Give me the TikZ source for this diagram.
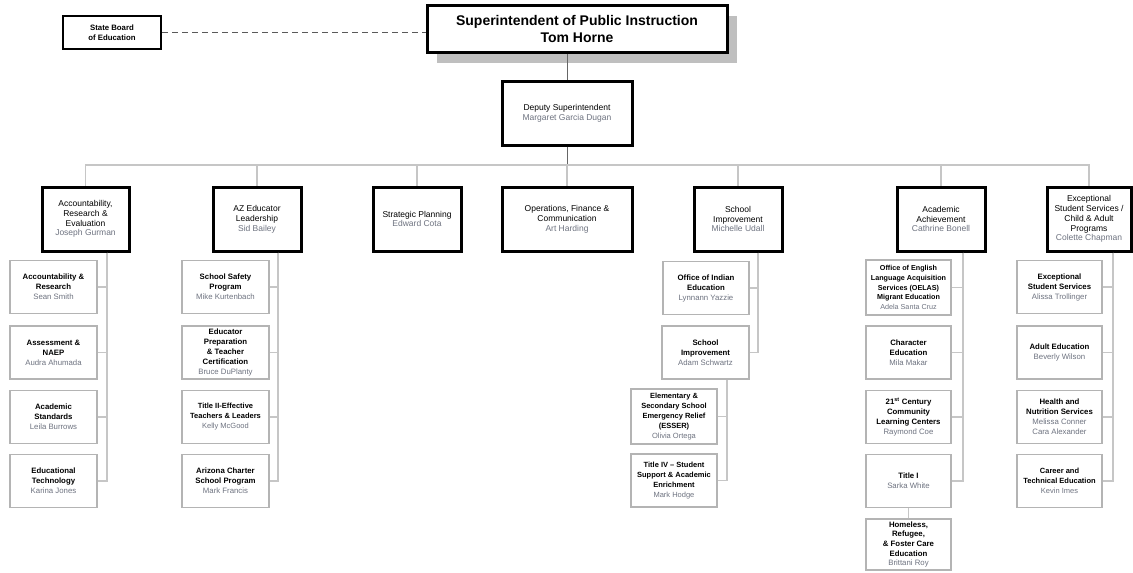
\documentclass[tikz,border=0pt]{standalone}
\usepackage{fontspec}
\setmainfont{Liberation Sans}
\usetikzlibrary{shadows}
\definecolor{subgray}{HTML}{B4B4B4}
\definecolor{conngray}{HTML}{C6C6C6}
\definecolor{namegray}{HTML}{6E7380}
\newcommand\pname[1]{{\mdseries\color{namegray}#1}}
\begin{document}
\begin{tikzpicture}[x=1pt,y=-1pt,
  topbox/.style={draw, line width=3pt, fill=white, minimum width=300pt, minimum height=47pt, inner sep=0pt, align=center, font=\fontsize{14}{17}\selectfont\bfseries},
  sbbox/.style={draw, line width=2.5pt, fill=white, minimum width=98pt, minimum height=33pt, inner sep=0pt, align=center, font=\fontsize{7.8}{9.5}\selectfont\bfseries},
  depbox/.style={draw, line width=3pt, fill=white, minimum width=130pt, minimum height=64pt, inner sep=0pt, align=center, font=\fontsize{8.5}{10}\selectfont},
  lvltwo/.style={draw, line width=3pt, fill=white, minimum height=64pt, inner sep=1pt, align=center, font=\fontsize{8.5}{9.8}\selectfont},
  lvlthree/.style={draw=subgray, line width=1.1pt, fill=white, minimum width=87pt, minimum height=53pt, inner sep=1pt, align=center, font=\fontsize{7.8}{10}\selectfont\bfseries},
  conn/.style={draw=conngray, line width=1.2pt},
  mainline/.style={draw=black!60, line width=1pt},
  dashline/.style={draw=black!65, line width=1pt, dash pattern=on 6pt off 4pt}
]
\useasboundingbox (0,0) rectangle (1133,573);
\fill[white] (0,0) rectangle (1133,573);

% top level
\node[topbox, drop shadow={shadow xshift=10pt, shadow yshift=-11pt, fill=black!25, opacity=1}] (sup) at (577,28.5) {Superintendent of Public Instruction\\Tom Horne};
\node[sbbox] (sb) at (112,32.5) {State Board\\of Education};
\node[depbox] (dep) at (567,113) {Deputy Superintendent\\\pname{Margaret Garcia Dugan}};

% level 2
\node[lvltwo, minimum width=87pt] (acc) at (85.5,219) {Accountability,\\Research \&\\Evaluation\\\pname{Joseph Gurman}};
\node[lvltwo, minimum width=88pt] (az) at (257,219) {AZ Educator\\Leadership\\\pname{Sid Bailey}};
\node[lvltwo, minimum width=88pt] (stp) at (417,219) {Strategic Planning\\\pname{Edward Cota}};
\node[lvltwo, minimum width=130pt] (ops) at (567,219) {Operations, Finance \&\\Communication\\\pname{Art Harding}};
\node[lvltwo, minimum width=88pt] (sci) at (738,219) {School\\Improvement\\\pname{Michelle Udall}};
\node[lvltwo, minimum width=88pt] (aca) at (941,219) {Academic\\Achievement\\\pname{Cathrine Bonell}};
\node[lvltwo, minimum width=84pt] (exc) at (1089,219) {Exceptional\\Student Services /\\Child \& Adult\\Programs\\\pname{Colette Chapman}};

% column 1
\node[lvlthree] (a1) at (53.5,287) {Accountability \&\\Research\\\pname{Sean Smith}};
\node[lvlthree] (a2) at (53.5,352.5) {Assessment \&\\NAEP\\\pname{Audra Ahumada}};
\node[lvlthree] (a3) at (53.5,417) {Academic\\Standards\\\pname{Leila Burrows}};
\node[lvlthree] (a4) at (53.5,481) {Educational\\Technology\\\pname{Karina Jones}};

% column 2
\node[lvlthree] (b1) at (225.5,287) {School Safety\\Program\\\pname{Mike Kurtenbach}};
\node[lvlthree] (b2) at (225.5,352.5) {Educator\\Preparation\\\& Teacher\\Certification\\\pname{Bruce DuPlanty}};
\node[lvlthree, font=\fontsize{7.5}{10}\selectfont\bfseries] (b3) at (225.5,417) {Title II-Effective\\Teachers \& Leaders\\\pname{Kelly McGood}};
\node[lvlthree] (b4) at (225.5,481) {Arizona Charter\\School Program\\\pname{Mark Francis}};

% school improvement column
\node[lvlthree, minimum width=86pt] (s1) at (706,288) {Office of Indian\\Education\\\pname{Lynnann Yazzie}};
\node[lvlthree] (s2) at (705.5,352.5) {School\\Improvement\\\pname{Adam Schwartz}};
\node[lvlthree, minimum width=86pt, minimum height=55pt, font=\fontsize{7.5}{9.8}\selectfont\bfseries] (s3) at (674,416.5) {Elementary \&\\Secondary School\\Emergency Relief\\(ESSER)\\\pname{Olivia Ortega}};
\node[lvlthree, minimum width=86pt, font=\fontsize{7.5}{10}\selectfont\bfseries] (s4) at (674,480.5) {Title IV -- Student\\Support \& Academic\\Enrichment\\\pname{Mark Hodge}};

% academic achievement column
\node[lvlthree, minimum width=85pt, minimum height=55pt, font=\fontsize{7.2}{9.6}\selectfont\bfseries] (c1) at (908.5,287.5) {Office of English\\Language Acquisition\\Services (OELAS)\\Migrant Education\\\pname{Adela Santa Cruz}};
\node[lvlthree, minimum width=85pt] (c2) at (908.5,352.5) {Character\\Education\\\pname{Mila Makar}};
\node[lvlthree, minimum width=85pt] (c3) at (908.5,417) {21\textsuperscript{st} Century\\Community\\Learning Centers\\\pname{Raymond Coe}};
\node[lvlthree, minimum width=85pt] (c4) at (908.5,481) {Title I\\\pname{Sarka White}};
\node[lvlthree, minimum width=85pt, minimum height=51pt, font=\fontsize{7.8}{9.6}\selectfont\bfseries] (c5) at (908.5,544.5) {Homeless,\\Refugee,\\\& Foster Care\\Education\\\pname{Brittani Roy}};

% exceptional column
\node[lvlthree, minimum width=85pt] (e1) at (1059.5,287) {Exceptional\\Student Services\\\pname{Alissa Trollinger}};
\node[lvlthree, minimum width=85pt] (e2) at (1059.5,352.5) {Adult Education\\\pname{Beverly Wilson}};
\node[lvlthree, minimum width=85pt] (e3) at (1059.5,417) {Health and\\Nutrition Services\\\pname{Melissa Conner}\\\pname{Cara Alexander}};
\node[lvlthree, minimum width=85pt, font=\fontsize{7.5}{10}\selectfont\bfseries] (e4) at (1059.5,481) {Career and\\Technical Education\\\pname{Kevin Imes}};

% connectors
\draw[dashline] (sb.east) -- (sb.east -| sup.west);
\draw[mainline] (dep.north) -- (dep.north |- sup.south);
\coordinate (bus) at (0,165);
\draw[mainline] (dep.south) -- (dep.south |- bus);
\draw[conn] (acc.north) -- (acc.north |- bus) -- (exc.north |- bus) -- (exc.north);
\foreach \n in {az,stp,ops,sci,aca} \draw[conn] (\n.north) -- (\n.north |- bus);

\coordinate (accS) at (107,0);
\foreach \n in {a1,a2,a3,a4} \draw[conn] (acc.south -| accS) |- (\n.east);
\coordinate (azS) at (278,0);
\foreach \n in {b1,b2,b3,b4} \draw[conn] (az.south -| azS) |- (\n.east);
\coordinate (sciS) at (758,0);
\foreach \n in {s1,s2} \draw[conn] (sci.south -| sciS) |- (\n.east);
\coordinate (siS) at (727,0);
\foreach \n in {s3,s4} \draw[conn] (s2.south -| siS) |- (\n.east);
\coordinate (acaS) at (963,0);
\foreach \n in {c1,c2,c3,c4} \draw[conn] (aca.south -| acaS) |- (\n.east);
\draw[conn] (c4.south) -- (c5.north);
\coordinate (excS) at (1113,0);
\foreach \n in {e1,e2,e3,e4} \draw[conn] (exc.south -| excS) |- (\n.east);
\end{tikzpicture}
\end{document}
